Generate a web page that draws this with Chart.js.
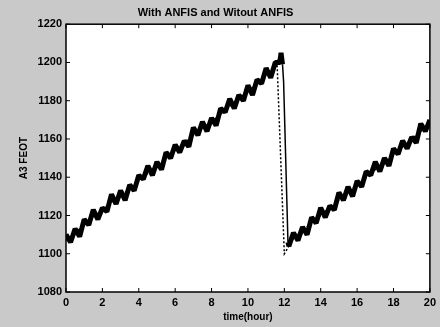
<!DOCTYPE html>
<html>
<head>
<meta charset="utf-8">
<script src="https://cdn.jsdelivr.net/npm/chart.js@4.4.1/dist/chart.umd.min.js"></script>
<style>
  html, body { margin: 0; padding: 0; background: #c9c9c9; }
  canvas { display: block; }
</style>
</head>
<body>
<canvas id="myChart" width="440" height="327"></canvas>
<script>
// Without ANFIS (solid, noisy)
const solidTime = [
  0, 0.25, 0.5, 0.75, 1, 1.25, 1.5, 1.75, 2, 2.25, 2.5, 2.75,
  3, 3.25, 3.5, 3.75, 4, 4.25, 4.5, 4.75, 5, 5.25, 5.5, 5.75,
  6, 6.25, 6.5, 6.75, 7, 7.25, 7.5, 7.75, 8, 8.25, 8.5, 8.75,
  9, 9.25, 9.5, 9.75, 10, 10.25, 10.5, 10.75, 11, 11.25, 11.5, 11.75,
  11.82, 11.9, 11.96, 12.2,
  12.25, 12.5, 12.75, 13, 13.25, 13.5, 13.75, 14, 14.25, 14.5, 14.75,
  15, 15.25, 15.5, 15.75, 16, 16.25, 16.5, 16.75, 17, 17.25, 17.5, 17.75,
  18, 18.25, 18.5, 18.75, 19, 19.25, 19.5, 19.75, 20
];
const solidLevel = [
  1110, 1106, 1113, 1109, 1118, 1115, 1123, 1118, 1124, 1122, 1131, 1126,
  1133, 1128, 1136, 1133, 1141, 1139, 1146, 1141, 1148, 1144, 1153, 1150,
  1157, 1153, 1159, 1156, 1166, 1162, 1169, 1164, 1171, 1167, 1176, 1174,
  1181, 1176, 1183, 1180, 1188, 1183, 1191, 1189, 1197, 1192, 1200, 1200,
  1205, 1199, 1190, 1106,
  1104, 1111, 1107, 1114, 1110, 1119, 1116, 1124, 1119, 1125, 1123,
  1132, 1128, 1135, 1130, 1138, 1135, 1143, 1141, 1148, 1143, 1150, 1146,
  1155, 1152, 1159, 1155, 1161, 1158, 1168, 1164, 1170
];

// With ANFIS (dashed)
const dashTime = [
  0, 0.5, 1, 1.5, 2, 2.5, 3, 3.5, 4, 4.5, 5, 5.5, 6, 6.5, 7, 7.5, 8, 8.5,
  9, 9.5, 10, 10.5, 11, 11.5, 11.6, 12.0, 12.25, 12.5, 13, 13.5, 14, 14.5,
  15, 15.5, 16, 16.5, 17, 17.5, 18, 18.5, 19, 19.5, 20
];
const dashLevel = [
  1107, 1111, 1115, 1119, 1123, 1127, 1130, 1134, 1138, 1142, 1146, 1150, 1154, 1158, 1162, 1166, 1169, 1173,
  1177, 1181, 1185, 1189, 1193, 1197, 1200, 1100, 1104, 1108, 1112, 1116, 1120, 1124,
  1128, 1132, 1136, 1140, 1144, 1148, 1152, 1156, 1160, 1164, 1168
];

const xTicks = [0, 2, 4, 6, 8, 10, 12, 14, 16, 18, 20];
const yTicks = [1080, 1100, 1120, 1140, 1160, 1180, 1200, 1220];

const toPoints = (xs, ys) => xs.map((x, i) => ({ x: x, y: ys[i] }));

// fond gris + cadre avec graduations intérieures
const frame = {
  id: 'frame',
  beforeDraw(chart) {
    const { ctx, chartArea: a } = chart;
    ctx.save();
    ctx.fillStyle = '#c9c9c9';
    ctx.fillRect(0, 0, chart.width, chart.height);
    ctx.fillStyle = '#ffffff';
    ctx.fillRect(a.left, a.top, a.right - a.left, a.bottom - a.top);
    ctx.restore();
  },
  afterDraw(chart) {
    const { ctx, chartArea: a, scales } = chart;
    ctx.save();
    ctx.strokeStyle = '#000';
    ctx.lineWidth = 1;
    ctx.beginPath();
    xTicks.forEach(v => {
      const px = scales.x.getPixelForValue(v);
      ctx.moveTo(px, a.bottom); ctx.lineTo(px, a.bottom - 4);
      ctx.moveTo(px, a.top); ctx.lineTo(px, a.top + 4);
    });
    yTicks.forEach(v => {
      const py = scales.y.getPixelForValue(v);
      ctx.moveTo(a.left, py); ctx.lineTo(a.left + 4, py);
      ctx.moveTo(a.right, py); ctx.lineTo(a.right - 4, py);
    });
    ctx.stroke();
    ctx.lineWidth = 1.5;
    ctx.strokeRect(a.left, a.top, a.right - a.left, a.bottom - a.top);
    ctx.restore();
  }
};

const tickFont = { family: 'Liberation Sans', size: 11, weight: 'bold' };

// la chute vers 12 h est un trait fin, le reste une bande épaisse
const dropWidth = c => (c.p0.parsed.x >= 11.9 && c.p1.parsed.x <= 12.2) ? 1.5 : undefined;

const config = {
  type: 'line',
  data: {
    datasets: [
      {
        label: 'Witout ANFIS',
        data: toPoints(solidTime, solidLevel),
        borderColor: '#000',
        borderWidth: 5,
        borderJoinStyle: 'bevel',
        segment: { borderWidth: dropWidth },
        pointRadius: 0,
        tension: 0
      },
      {
        label: 'With ANFIS',
        data: toPoints(dashTime, dashLevel),
        borderColor: '#000',
        borderWidth: 1.5,
        borderDash: [2, 2],
        pointRadius: 0,
        tension: 0
      }
    ]
  },
  options: {
    responsive: false,
    animation: false,
    layout: { padding: { left: 0, right: 9, top: 0, bottom: 0 } },
    plugins: {
      legend: { display: false },
      tooltip: { enabled: false },
      title: {
        display: true,
        text: 'With ANFIS and Witout ANFIS',
        color: '#000',
        font: { family: 'Liberation Sans', size: 11, weight: 'bold' },
        padding: { top: 6, bottom: 5 }
      }
    },
    scales: {
      x: {
        type: 'linear',
        min: 0,
        max: 20,
        afterBuildTicks: s => { s.ticks = xTicks.map(v => ({ value: v })); },
        afterFit: s => { s.height = 35; },
        grid: { display: false, drawTicks: false },
        border: { display: false },
        ticks: { color: '#000', font: tickFont, padding: 4, maxRotation: 0 },
        title: {
          display: true,
          text: 'time(hour)',
          color: '#000',
          font: { family: 'Liberation Sans', size: 10, weight: 'bold' },
          padding: { top: 0, bottom: 4 }
        }
      },
      y: {
        min: 1080,
        max: 1220,
        afterBuildTicks: s => { s.ticks = yTicks.map(v => ({ value: v })); },
        afterFit: s => { s.width = 66; },
        grid: { display: false, drawTicks: false },
        border: { display: false },
        ticks: { color: '#000', font: tickFont, padding: 4, callback: v => String(v) },
        title: {
          display: true,
          text: 'A3 FEOT',
          color: '#000',
          font: { family: 'Liberation Sans', size: 10, weight: 'bold' },
          padding: { top: 18, bottom: 0 }
        }
      }
    }
  },
  plugins: [frame]
};

const myChart = new Chart(document.getElementById('myChart'), config);
</script>
</body>
</html>
